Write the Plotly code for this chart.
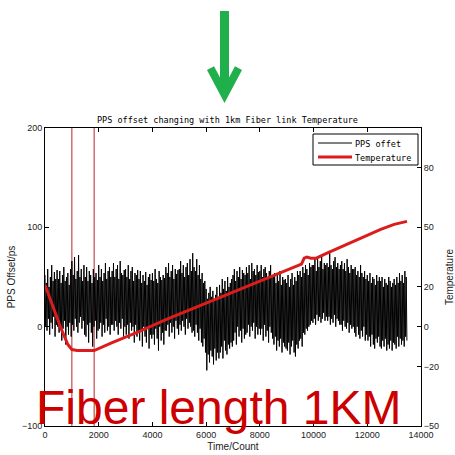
import plotly.graph_objects as go

# ---------------- data ----------------
count_step = 25
pps_offset = [
    52, 0, 44, -4, 58, 8, 40, -8, 50, 4, 62, -2, 46, 10, 55, -10, 48, 2, 57, 0,
    48, -6, 56, 2, 44, -14, 52, -2, 60, 6, 46, -18, 50, 0, 54, -8, 42, 4, 58, -10,
    66, 2, 52, -4, 70, 8, 48, 0, 56, -6, 72, 4, 50, 10, 58, -2, 46, 6, 62, -8,
    50, -10, 60, 2, 46, -16, 56, 4, 52, -6, 44, -20, 58, 0, 50, 6, 54, -12, 47, -4,
    62, -2, 50, 4, 58, -10, 46, 2, 54, -6, 64, 8, 48, -4, 56, 0, 60, -8, 50, 2,
    56, 2, 64, -4, 50, 6, 58, 0, 62, -8, 48, 4, 66, -2, 54, 8, 52, -10, 57, 0,
    58, -8, 50, 2, 62, -12, 48, 4, 56, -4, 60, 0, 46, -16, 54, 2, 52, -10, 57, -6,
    48, -14, 56, -4, 44, -20, 52, 0, 46, -10, 55, -16, 42, -2, 50, -22, 53, -8, 47, -12,
    54, -8, 46, -18, 58, -2, 48, -12, 44, -24, 56, 0, 50, -14, 47, -6, 52, -18, 49, -4,
    60, -4, 54, 2, 64, -10, 50, 4, 56, -6, 62, 0, 48, -12, 58, 6, 53, -2, 57, -8,
    58, 2, 66, -4, 54, 6, 62, 0, 50, -8, 60, 8, 64, -2, 52, 4, 68, 0, 56, -6,
    74, -4, 60, -10, 56, 2, 68, -6, 52, -14, 62, -2, 48, -16, 54, -20, 44, -12, 46, -26,
    38, -44, 28, -28, 34, -36, 40, -24, 30, -30, 36, -38, 26, -22, 32, -34, 40, -26, 30, -32,
    42, -26, 34, -20, 48, -32, 38, -14, 46, -24, 36, -28, 50, -18, 40, -22, 44, -16, 48, -20,
    52, -14, 58, -6, 46, -18, 56, 0, 50, -10, 60, -4, 48, -16, 57, -2, 54, -12, 52, -8,
    60, -6, 54, 2, 62, -10, 48, 0, 64, -4, 56, 4, 58, -12, 52, 0, 62, -8, 55, -2,
    56, -8, 62, -2, 50, -14, 58, 2, 60, -10, 54, -4, 48, -16, 56, 0, 62, -6, 52, -12,
    50, -18, 54, -10, 44, -24, 52, -14, 46, -20, 56, -12, 42, -26, 50, -16, 47, -20, 48, -22,
    44, -24, 52, -16, 40, -28, 48, -20, 54, -14, 42, -26, 50, -30, 46, -18, 56, -22, 52, -14,
    56, -12, 50, -20, 60, -6, 54, -8, 62, -2, 58, -4, 52, 0, 64, 2, 60, 6, 62, 4,
    62, 8, 70, 2, 56, 12, 68, 6, 60, 10, 66, 4, 72, 8, 58, 14, 64, 6, 62, 10,
    64, 6, 60, 10, 74, 2, 62, 8, 58, 4, 66, 12, 70, 0, 60, 8, 64, 6, 58, 2,
    62, 2, 66, -4, 58, 6, 64, 0, 56, -2, 68, 4, 60, -6, 54, 2, 62, -2, 58, 0,
    58, -6, 60, -10, 52, 0, 56, -8, 50, -12, 62, -4, 54, -10, 50, 0, 56, -14, 48, -8,
    52, -14, 46, -10, 54, -20, 44, -8, 50, -18, 48, -22, 42, -12, 52, -16, 46, -10, 50, -20,
    46, -22, 50, -14, 40, -20, 48, -12, 44, -24, 42, -18, 50, -22, 46, -14, 40, -24, 44, -16,
    48, -18, 42, -22, 50, -10, 44, -20, 54, -12, 46, -18, 52, -14, 44, -20, 56, -10, 50, -14,
]
pps_count = [i * count_step for i in range(len(pps_offset))]

temp_count = [0, 300, 600, 850, 1000, 1200, 1500, 1830, 2500, 3500, 4500, 5500,
              6500, 7500, 8500, 9300, 9550, 9650, 9750, 9900, 10100, 10500,
              11000, 11500, 12000, 12500, 13000, 13480]
temperature = [21, 10, -1, -9, -11.5, -12, -12, -12, -8, -2.5, 3.5, 9,
               14.5, 20, 25.5, 30, 31.5, 34.5, 35, 34.5, 34.5, 37,
               40, 43, 46, 49, 51.5, 53]

marker_counts = [1000, 1830]

x_ticks = [0, 2000, 4000, 6000, 8000, 10000, 12000, 14000]
y_ticks = [-100, 0, 100, 200]
y2_ticks = [-50, -20, 0, 20, 50, 80]
legend_names = ["PPS offet", "Temperature"]

# ---------------- geometry helpers (decoration only) ----------------
W = H = 455
L, R, T, B = 45, 34, 128, 29
PW, PH = W - L - R, H - T - B


def px(x):
    return (x - L) / PW


def py(y):
    return (H - B - y) / PH


BLACK_LINE = dict(color="black", width=1, simplify=False)
RED_LINE = dict(color="#dc1c1c", width=3)

fig = go.Figure()
fig.add_trace(go.Scatter(x=pps_count, y=pps_offset, mode="lines",
                         line=BLACK_LINE, name=legend_names[0]))
fig.add_trace(go.Scatter(x=temp_count, y=temperature, mode="lines", yaxis="y2",
                         line=RED_LINE, name=legend_names[1]))

for xc in marker_counts:
    fig.add_shape(type="line", xref="x", yref="y", x0=xc, x1=xc, y0=-100, y1=200,
                  line=dict(color="#b3282a", width=1), layer="below")

# green arrow
pts = [(220, 11), (229, 11), (229, 77.6), (235, 66.3), (242, 70), (224.5, 103),
       (207, 70), (214, 66.3), (220, 77.6)]
path = "M " + " L ".join(f"{px(a):.5f},{py(b):.5f}" for a, b in pts) + " Z"
fig.add_shape(type="path", xref="paper", yref="paper", path=path,
              fillcolor="#1fb04b", line=dict(width=0))

# legend box (MATLAB style)
fig.add_shape(type="rect", xref="paper", yref="paper",
              x0=px(313), x1=px(418), y0=py(134), y1=py(165),
              line=dict(color="black", width=1), fillcolor="white")
legend_font = dict(family="DejaVu Sans Mono", size=8.5, color="black")
for name, ly, ln in [(legend_names[0], 143, dict(color="black", width=1)),
                     (legend_names[1], 157, RED_LINE)]:
    fig.add_shape(type="line", xref="paper", yref="paper",
                  x0=px(318), x1=px(352), y0=py(ly), y1=py(ly), line=ln)
    fig.add_annotation(text=name, xref="paper", yref="paper", x=px(354),
                       y=py(ly + 1), xanchor="left", yanchor="middle",
                       showarrow=False, font=legend_font, borderpad=0)

fig.add_annotation(text="Fiber length 1KM", xref="paper", yref="paper",
                   x=px(34), y=py(407), xanchor="left", yanchor="middle",
                   showarrow=False,
                   font=dict(family="Liberation Sans", size=48, color="#cc0000"))

tickfont = dict(family="Liberation Sans", size=9, color="#222")
titlefont = dict(family="Liberation Sans", size=10, color="#222")
fig.update_layout(
    width=W, height=H, margin=dict(l=L, r=R, t=T, b=B),
    paper_bgcolor="white", plot_bgcolor="white",
    showlegend=False,
    title=dict(text="PPS offset changing with 1km Fiber link Temperature",
               x=px(233), xanchor="center", y=1 - 120 / H, yanchor="middle",
               yref="container",
               font=dict(family="DejaVu Sans Mono", size=8.5, color="black")),
    xaxis=dict(range=[0, 14000], tickvals=x_ticks,
               ticktext=[str(v) for v in x_ticks], automargin=False,
               showgrid=False, zeroline=False,
               showline=True, linecolor="black", linewidth=1, mirror="ticks",
               ticks="inside", ticklen=4, tickcolor="black", tickfont=tickfont,
               title=dict(text="Time/Count", standoff=4, font=titlefont)),
    yaxis=dict(range=[-100, 200], tickvals=y_ticks, automargin=False,
               showgrid=False, zeroline=False,
               showline=True, linecolor="black", linewidth=1,
               ticks="inside", ticklen=4, tickcolor="black", tickfont=tickfont,
               title=dict(text="PPS Offset/ps", standoff=4, font=titlefont)),
    yaxis2=dict(range=[-50, 100], tickvals=y2_ticks, overlaying="y", side="right",
                automargin=False,
                showgrid=False, zeroline=False, showline=True, linecolor="black",
                linewidth=1, ticks="inside", ticklen=4, tickcolor="black",
                tickfont=tickfont,
                title=dict(text="Temperature", standoff=8, font=titlefont)),
)

fig.write_html("out.html")
